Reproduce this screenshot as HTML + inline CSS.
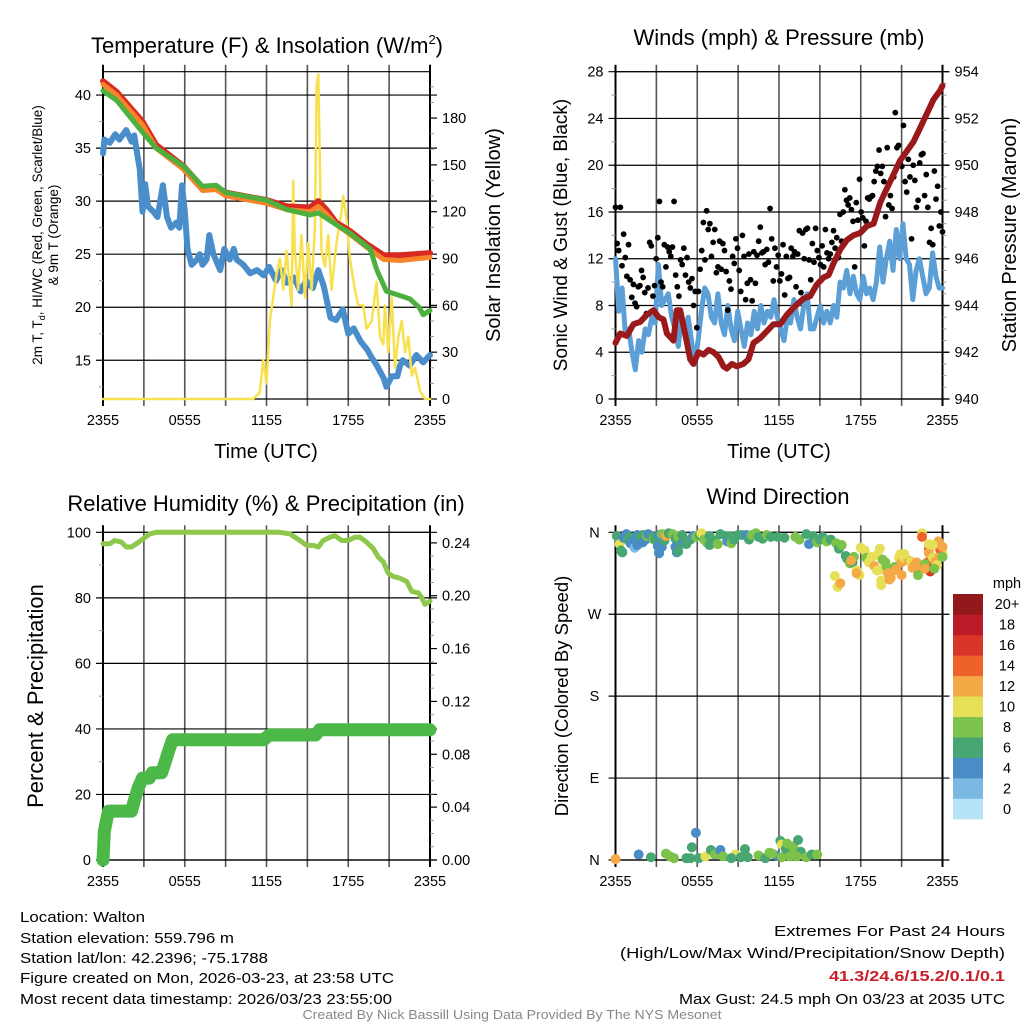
<!DOCTYPE html>
<html><head><meta charset="utf-8">
<style>
html,body{margin:0;padding:0;background:#fff;}
svg{display:block;font-family:"Liberation Sans",sans-serif;}
</style></head>
<body>
<svg id="chart" width="1024" height="1024" viewBox="0 0 1024 1024" xmlns="http://www.w3.org/2000/svg">
<rect x="0" y="0" width="1024" height="1024" fill="#fff"/>
<text x="267" y="53" font-size="22" text-anchor="middle">Temperature (F) &amp; Insolation (W/m<tspan font-size="13" dy="-9">2</tspan><tspan dy="9">)</tspan></text>
<text x="779" y="45" font-size="22" text-anchor="middle">Winds (mph) &amp; Pressure (mb)</text>
<text x="266" y="511" font-size="22" text-anchor="middle">Relative Humidity (%) &amp; Precipitation (in)</text>
<text x="778" y="504" font-size="22" text-anchor="middle">Wind Direction</text>
<text transform="translate(42,235) rotate(-90)" font-size="13.5" text-anchor="middle">2m T, T<tspan font-size="9" dy="3">d</tspan><tspan dy="-3">, HI/WC (Red, Green, Scarlet/Blue)</tspan></text>
<text transform="translate(58,235) rotate(-90)" font-size="13.5" text-anchor="middle">&amp; 9m T (Orange)</text>
<text transform="translate(500,235) rotate(-90)" font-size="20" text-anchor="middle">Solar Insolation (Yellow)</text>
<text x="266" y="458" font-size="20" text-anchor="middle">Time (UTC)</text>
<text transform="translate(567,235) rotate(-90)" font-size="19" text-anchor="middle">Sonic Wind &amp; Gust (Blue, Black)</text>
<text transform="translate(1016,235) rotate(-90)" font-size="20" text-anchor="middle">Station Pressure (Maroon)</text>
<text x="779" y="458" font-size="20" text-anchor="middle">Time (UTC)</text>
<text transform="translate(43,696) rotate(-90)" font-size="22" text-anchor="middle">Percent &amp; Precipitation</text>
<text transform="translate(568,696) rotate(-90)" font-size="18.5" text-anchor="middle">Direction (Colored By Speed)</text>
<g font-size="15">
<text x="20" y="922" textLength="125" lengthAdjust="spacingAndGlyphs">Location: Walton</text>
<text x="20" y="943" textLength="214" lengthAdjust="spacingAndGlyphs">Station elevation: 559.796 m</text>
<text x="20" y="963" textLength="248" lengthAdjust="spacingAndGlyphs">Station lat/lon: 42.2396; -75.1788</text>
<text x="20" y="983" textLength="374" lengthAdjust="spacingAndGlyphs">Figure created on Mon, 2026-03-23, at 23:58 UTC</text>
<text x="20" y="1004" textLength="372" lengthAdjust="spacingAndGlyphs">Most recent data timestamp: 2026/03/23 23:55:00</text>
</g>
<g font-size="15" text-anchor="end">
<text x="1005" y="936" textLength="231" lengthAdjust="spacingAndGlyphs">Extremes For Past 24 Hours</text>
<text x="1005" y="958" textLength="385" lengthAdjust="spacingAndGlyphs">(High/Low/Max Wind/Precipitation/Snow Depth)</text>
<text x="1005" y="981" fill="#c8202a" font-weight="bold" textLength="176" lengthAdjust="spacingAndGlyphs">41.3/24.6/15.2/0.1/0.1</text>
<text x="1005" y="1004" textLength="326" lengthAdjust="spacingAndGlyphs">Max Gust: 24.5 mph On 03/23 at 2035 UTC</text>
</g>
<text x="512" y="1019" font-size="12.5" fill="#888" text-anchor="middle" textLength="419" lengthAdjust="spacingAndGlyphs">Created By Nick Bassill Using Data Provided By The NYS Mesonet</text>
</svg>
<script>
// ---------- Panel 1 data ----------
const redHours = [0,1,2.9,3.9,5.9,7.3,8.3,9,12,13.5,15.2,15.8,16.4,17.1,18.1,19.3,20.6,21.8,24];
const redTemp = [41.3,40.3,37.5,35.3,33.3,31.3,31.4,30.8,30.1,29.5,29.4,30.0,29.2,28.0,27.2,26.0,24.9,24.9,25.1];
const orangeTemp = [41.0,40.0,37.2,35.0,33.0,31.0,31.1,30.5,29.8,29.2,29.0,29.5,28.8,27.8,26.9,25.7,24.5,24.4,24.7];
const greenHours = [0,1,2.9,3.9,5.9,7.3,8.3,9,12,13.5,15.2,15.8,17.1,18.1,19.6,20.1,20.8,21.8,22.5,23.2,23.5,24];
const greenTemp = [40.4,39.5,36.5,35.0,33.3,31.4,31.5,30.8,30.1,29.2,28.7,28.9,27.8,27.0,25.5,23.5,21.5,21.1,20.8,20.0,19.3,19.7];
const blueHours = [0,0.1,0.5,0.9,1.2,1.7,2.1,2.3,2.5,2.7,2.9,3.1,3.3,3.7,4.0,4.4,4.7,5.0,5.4,5.6,5.8,6.0,6.2,6.5,6.9,7.1,7.3,7.6,7.8,8.1,8.6,8.9,9.3,9.6,9.8,10.3,10.8,11.3,11.8,12.2,12.7,13.1,13.5,14.0,14.5,14.9,15.4,15.8,16.2,16.7,17.1,17.6,18.0,18.4,18.9,19.4,19.6,20.1,20.6,20.8,21.2,21.6,21.8,22.0,22.5,23.0,23.5,24];
const blueTemp = [34.5,35.8,35.5,36.3,35.8,36.7,35.6,36.2,34.5,33,29,31.6,29.5,29,28.5,31.5,28.5,27.5,28,27.5,31.5,29,25.5,24,24.5,25,24,24.5,26.8,25,23.5,25.5,24.5,25.5,24.5,24,23.2,23.5,23.0,23.8,22.5,23.5,22.3,22.8,21.5,22.5,21.8,23.5,22,19,18.8,19.8,17.5,18,16.8,16,15.5,14.5,13.3,12.5,13.5,13.5,14.5,15,14.5,15.5,14.8,15.5];
const solarHours = [0,11.0,11.5,11.76,12.0,12.25,12.49,12.74,12.98,13.23,13.47,13.84,13.96,14.08,14.33,14.57,14.82,15.06,15.31,15.55,15.68,15.8,15.92,16.04,16.29,16.53,16.78,17.14,17.51,17.63,17.88,18.12,18.49,18.74,19.1,19.35,19.72,20.08,20.33,20.57,20.69,20.94,21.19,21.43,21.68,21.92,22.17,22.41,22.66,22.9,23.27,23.63,24];
const solarValue = [0,0,4,25,10,50,65,80,90,70,95,60,140,95,70,105,65,100,70,110,200,208,150,95,85,105,70,100,120,130,115,90,70,60,60,45,50,75,40,35,60,30,65,20,40,50,30,40,15,20,5,0,0];
const tempTicks = [15,20,25,30,35,40];
const solarTicks = [0,30,60,90,120,150,180];
const timeLabels = ['2355','0555','1155','1755','2355'];
// ---------- Panel 2 data ----------
const pressureHours = [0,0.34,0.83,1.32,1.81,2.3,2.79,3.16,3.52,3.77,4.26,4.5,4.75,5.11,5.48,5.72,6.09,6.46,6.83,7.19,7.56,7.93,8.17,8.54,8.9,9.39,9.76,10.13,10.62,11.11,11.6,12.09,12.58,13.06,13.8,14.29,14.78,15.27,15.64,16.0,16.5,16.98,17.47,17.96,18.45,18.94,19.43,19.91,20.4,20.89,21.38,21.87,22.36,22.85,23.33,23.83,24];
const pressureMb = [942.4,942.8,942.7,943.2,943.3,943.6,943.8,943.5,943.4,942.8,942.5,943.8,943.8,942.8,941.7,941.5,942.0,941.9,942.1,942.0,941.8,941.4,941.3,941.5,941.4,941.5,941.7,942.4,942.6,942.9,943.2,943.2,943.6,943.9,944.3,944.4,944.9,945.2,945.3,945.8,946.4,946.8,947.0,947.1,947.4,947.5,948.4,949.0,949.6,950.2,950.6,951.0,951.6,952.2,952.8,953.2,953.4];
const windSpeed = [12,7.5,9.5,5.5,6,4,2.5,5,4,6,5.5,7,6.5,11.5,8,8.5,9,7,6,4.5,7,6,7,5,3,5,7.5,9.5,9,7,6.5,9,6.5,5.5,8,6,5,7.5,6,4.5,6.5,5.5,7.5,6,8,6.5,7.5,7,8.5,7,6,5,7,6.5,8.5,7,6,8,9,6,6,7,8,6.5,7.5,6.5,8,7,10,9.5,11,9,10.5,9,8.5,10.5,9,9.5,8.5,10,13,10,12,13.5,11,14.5,12,15,12,11.5,8.5,11,12,10.5,9,9.5,12.5,10.5,9.5,9.5];
const gustSpeed = [16.4,13.3,12.7,16.4,11.4,14.1,12.1,10.5,13.2,10.2,8.7,9.8,8.2,7.9,9.6,9.7,11,10.4,9.1,7.3,9.5,13.4,13.1,8.8,9.7,12,13.8,16.9,10,9.6,13.2,11.3,13,12.6,12.2,13,16.9,10.6,9.6,8.8,11.9,11.5,12.9,10.6,12.1,10,9.5,10.3,8,9.2,6.1,9.2,11.1,12.7,15.1,11.9,16.1,14.5,15,12.2,13.4,14.5,10.8,11.3,13.5,11.1,13.3,12.7,10.9,7.6,10.1,9.4,12.2,11.6,13.7,12.9,11,9.2,14,12.2,8.5,9.9,12.4,10.2,8.4,12.6,9.9,12.3,13.5,14.7,12.5,12.6,11.5,12.8,11.7,16.3,13.7,10.1,12.9,11.3,12.3,10.1,10.7,13.2,8.9,12.2,10.3,10.4,12.9,12.2,12.6,9.6,12.4,14.4,9.1,14.2,12,14.5,14.6,11.9,10.2,13.3,11.7,14.6,12.7,12.1,11.5,13.1,11.3,14.5,12.5,12,12.4,13.4,14.4,12.9,13.8,12.1,15.8,13.5,16,17.9,17,16.6,17.2,16.2,15.2,11.3,16.8,15.3,18.8,16,15.5,13.1,15.2,17.2,17.1,17.3,17.4,18.6,19.5,19.9,21.3,19.3,19.9,18.6,15.6,21.5,16.6,17.4,16.3,19,24.5,21.5,21.7,20.2,19.9,23.4,18.6,17.7,20.5,19,13.7,20,18.7,16.4,17,20.2,20.9,21,17.4,19.2,16.4,13.4,14.6,13.2,19.5,17.1,18.2,14.8,16,14.3];
const windTicks = [0,4,8,12,16,20,24,28];
const pressureTicks = [940,942,944,946,948,950,952,954];
// ---------- Panel 3 data ----------
const rhHours = [0,0.49,0.86,1.35,1.71,2.08,2.45,2.94,3.43,3.92,12.98,13.72,14.45,14.94,15.43,15.8,16.16,16.65,17.02,17.51,18.0,18.49,18.86,19.35,19.84,20.2,20.57,20.94,21.31,21.8,22.29,22.66,23.15,23.39,23.63,24];
const rhValue = [96.5,96.5,97.5,97,95.5,95.5,96.5,98,99.5,100,100,99.5,97.5,96,96,95.5,97.5,98.5,99,97.5,97.5,98.5,98.5,97,95,92.5,91,87.5,86.5,86,85,82,81.5,80,78,79];
const precipHours = [0,0.05,0.1,0.2,0.4,2.1,2.3,2.6,2.9,3.4,3.6,4.3,4.5,4.8,5.1,11.8,12.2,15.6,15.9,24];
const precipIn = [0,0.011,0.022,0.027,0.037,0.037,0.045,0.055,0.062,0.062,0.066,0.066,0.072,0.082,0.091,0.091,0.0946,0.0946,0.0985,0.0985];
const rhTicks = [0,20,40,60,80,100];
const precipTicks = ['0.00','0.04','0.08','0.12','0.16','0.20','0.24'];
// ---------- Panel 4 data ----------
const dirHours = [
0.1,0.3,0.3,0.4,0.5,0.6,0.8,0.9,1.0,1.1,
1.3,1.4,1.6,1.6,1.8,2.0,2.0,2.2,2.3,2.4,
2.7,2.8,2.9,3.0,3.2,3.4,3.1,3.2,3.2,3.4,
3.6,3.7,3.9,4.2,4.4,4.4,4.5,4.6,4.6,4.8,
5.0,4.9,5.2,5.5,5.7,5.9,6.2,6.3,6.5,6.7,
6.9,6.9,7.3,7.5,7.7,8.1,8.2,8.4,8.5,8.7,
9.0,9.3,9.6,9.8,10.0,10.3,10.5,10.8,11.1,11.4,
11.9,12.4,13.2,13.5,14.0,14.2,14.5,14.8,15.0,15.2,
15.5,15.8,
16.2,16.4,16.6,16.9,17.0,17.2,17.4,17.5,17.7,17.9,
17.7,18.0,18.3,18.4,18.6,18.8,19.0,19.2,19.4,19.6,
19.8,19.2,19.6,19.5,19.9,20.0,20.2,20.4,20.5,20.8,
21.0,21.2,21.5,21.7,21.8,21.9,22.1,22.3,22.5,22.5,
22.9,23.0,23.0,23.1,23.2,23.3,23.5,23.6,23.8,24.0,
23.7,23.8,24.0,23.3,23.0,24.0,22.7,22.2,20.9,21.2,
16.3,16.5,17.3,19.5,20.1,20.6,21.0,22.7,23.4,16.1,
0,1.7,2.6,3.7,4.0,4.3,5.2,5.5,5.6,5.9,
6.1,6.6,7.0,7.3,7.7,7.9,8.8,9.2,9.5,9.7,
10.5,11.0,11.3,11.8,12.2,12.1,12.2,12.5,12.6,12.8,
13.0,13.1,13.4,13.6,14.0,14.4,14.8,13.3,8.5,11.5];
const dirDegrees = [
356,352,347,340,338,354,358,352,355,348,
350,343,346,357,355,349,357,352,356,358,
355,352,353,352,357,358,345,338,337,344,
351,356,359,358,353,344,338,339,355,347,
349,357,347,352,356,355,357,359,352,349,
356,346,351,347,358,356,350,356,348,352,
357,357,357,352,357,359,355,353,357,355,
355,354,355,352,358,347,356,349,352,355,
350,352,
348,342,346,334,331,326,327,333,318,313,
315,343,340,332,327,333,323,335,342,330,
327,318,319,307,322,315,310,318,322,332,
327,332,329,328,321,323,327,322,359,355,
327,342,337,317,319,332,328,324,334,337,
350,342,344,346,347,333,325,313,336,336,
300,304,329,302,308,319,313,320,320,312,
1,6,3,7,4,2,2,2,14,30,
2,4,11,6,11,4,6,3,12,3,
5,2,8,5,3,21,17,12,18,4,
15,13,22,9,3,6,6,4,2,7];
const dirSpeed = [
7,6,10,7,7,5,5,6,6,4,
4,2,4,4,7,4,6,4,8,4,
7,8,6,6,4,8,4,6,4,4,
7,12,7,8,6,4,4,6,8,6,
4,7,6,6,4,8,7,10,8,8,
6,6,6,8,6,7,4,6,8,6,
6,6,4,6,8,8,6,6,8,6,
6,6,8,8,6,4,6,8,6,6,
8,7,
8,6,8,6,6,8,6,8,10,10,
12,10,10,8,10,10,12,10,10,8,
8,10,10,10,8,12,12,12,8,10,
12,10,12,10,12,12,12,12,10,14,
14,14,12,16,16,10,12,10,12,10,
12,14,12,10,10,8,8,8,10,10,
10,12,12,10,12,12,12,12,8,10,
12,4,6,8,8,8,6,6,6,4,
6,10,6,8,4,8,10,6,6,6,
8,6,8,4,8,6,10,6,8,8,
8,8,6,6,8,6,8,8,6,8];
const dirTicks = ['N','E','S','W','N'];
const speedBins = ['0','2','4','6','8','10','12','14','16','18','20+'];
const speedColors = ['#b6e3f7','#7bb9e3','#4a8dc6','#48a672','#7dc24b','#e6e059','#f5a946','#ee6229','#db352a','#bb1c27','#92181c'];

const NS = 'http://www.w3.org/2000/svg';
const svg = document.getElementById('chart');
function mk(tag, parent) { const e = document.createElementNS(NS, tag); parent.appendChild(e); return e; }
function setA(e, obj) { for (const k in obj) e.setAttribute(k, obj[k]); return e; }
function scale(d0, d1, r0, r1) { return v => r0 + (v - d0) / (d1 - d0) * (r1 - r0); }

function frame(name, x0, x1, yT, yB, hTicksY) {
  const g = mk('g', svg);
  
  
  for (let i = 0; i <= 8; i++) {
    const x = x0 + i * (x1 - x0) / 8;
    const ln = mk('line', g);
    setA(ln, {x1: x, x2: x, y1: yT - 7, y2: yB + 7, stroke: (i === 0 || i === 8) ? '#000' : '#555', 'stroke-width': (i === 0 || i === 8) ? 2 : 1.6});
    
    
  }
  hTicksY.forEach(y => {
    const ln = mk('line', g);
    setA(ln, {x1: x0 - 7, x2: x1 + 7, y1: y, y2: y, stroke: '#000', 'stroke-width': 1.2});
    
    
  });
  const tl = mk('line', g);
  setA(tl, {x1: x0, x2: x1, y1: yT, y2: yT, stroke: '#000', 'stroke-width': 1.2});
  
  
  const bl = mk('line', g);
  setA(bl, {x1: x0, x2: x1, y1: yB, y2: yB, stroke: '#000', 'stroke-width': 1.2});
  
  
  timeLabels.forEach((t, i) => {
    const tx = mk('text', g);
    setA(tx, {x: x0 + i * (x1 - x0) / 4, y: yB + 26, 'font-size': 14.5, 'text-anchor': 'middle'});
    tx.textContent = t;
    
    
  });
  return g;
}
function minorTicks(g, x, ys, dir) {
  ys.forEach(y => {
    const ln = mk('line', g);
    setA(ln, {x1: x, x2: x + dir * 4, y1: y, y2: y, stroke: '#999', 'stroke-width': 1});
    
    
  });
}
function tickLabel(g, x, y, txt, anchor) {
  const tx = mk('text', g);
  setA(tx, {x: x, y: y + 5, 'font-size': 14.5, 'text-anchor': anchor});
  tx.textContent = txt;
  
  
}
function rightTicks(g, x1, ys) {
  ys.forEach(y => {
    const ln = mk('line', g);
    setA(ln, {x1: x1, x2: x1 + 7, y1: y, y2: y, stroke: '#000', 'stroke-width': 1.2});
    
    
  });
}
function pathD(xs, ys, fx, fy) { return xs.map((h, i) => (i ? 'L' : 'M') + fx(h).toFixed(1) + ',' + fy(ys[i]).toFixed(1)).join(''); }
function line(parent, d, color, w, name) {
  const p = mk('path', parent);
  setA(p, {d: d, fill: 'none', stroke: color, 'stroke-width': w, 'stroke-linejoin': 'round', 'stroke-linecap': 'round'});
  
  
  return p;
}

// ===== Panel 1 =====
(function () {
  const x0 = 103, x1 = 430, yT = 71.7, yB = 399;
  const fx = scale(0, 24, x0, x1);
  const fy = scale(11.35, 42.2, yB, yT);
  const fs = scale(0, 209.7, yB, yT);
  const g = frame('temp', x0, x1, yT, yB, tempTicks.map(fy));
  const mins = []; for (let v = 12.5; v < 42; v += 2.5) if (v % 5) mins.push(fy(v));
  minorTicks(g, x0, mins, -1);
  tempTicks.forEach(v => tickLabel(g, x0 - 12, fy(v), String(v), 'end'));
  const rm = []; for (let v = 10; v < 209; v += 10) if (v % 30) rm.push(fs(v));
  minorTicks(g, x1, rm, 1);
  rightTicks(g, x1, solarTicks.map(fs));
  solarTicks.forEach(v => tickLabel(g, x1 + 12, fs(v), String(v), 'start'));
  const s = mk('g', svg);
  
  
  line(s, pathD(blueHours, blueTemp, fx, fy), '#4a8dcb', 6, 'dewpoint-line');
  line(s, pathD(solarHours, solarValue, fx, fs), '#f8e04e', 2.5, 'solar-line');
  line(s, pathD(redHours, redTemp, fx, fy), '#d82a22', 6, 'temperature-2m-line');
  line(s, pathD(redHours, orangeTemp, fx, fy), '#f5842a', 5, 'temperature-9m-line');
  line(s, pathD(greenHours, greenTemp, fx, fy), '#4caf3e', 5, 'windchill-line');
})();

// ===== Panel 2 =====
(function () {
  const x0 = 615.5, x1 = 942.5, yT = 71.7, yB = 399;
  const fx = scale(0, 24, x0, x1);
  const fy = scale(0, 28, yB, yT);
  const fp = scale(940, 954, yB, yT);
  const g = frame('wind', x0, x1, yT, yB, windTicks.map(fy));
  const mins = []; for (let v = 2; v < 28; v += 4) mins.push(fy(v));
  minorTicks(g, x0, mins, -1);
  windTicks.forEach(v => tickLabel(g, x0 - 12, fy(v), String(v), 'end'));
  const rm = []; for (let v = 940.5; v < 954; v += 0.5) if (v % 2) rm.push(fp(v));
  minorTicks(g, x1, rm, 1);
  rightTicks(g, x1, pressureTicks.map(fp));
  pressureTicks.forEach(v => tickLabel(g, x1 + 12, fp(v), String(v), 'start'));
  const s = mk('g', svg);
  
  
  const wHours = windSpeed.map((v, i) => i * 24 / (windSpeed.length - 1));
  line(s, pathD(wHours, windSpeed, fx, fy), '#5b9fd6', 5, 'wind-speed-line');
  gustSpeed.forEach((v, i) => {
    const c = mk('circle', s);
    setA(c, {cx: fx(i * 24 / (gustSpeed.length - 1)), cy: fy(v), r: 2.9, fill: '#000'});
    
    
  });
  line(s, pathD(pressureHours, pressureMb, fx, fp), '#9a1a1c', 6, 'pressure-line');
})();

// ===== Panel 3 =====
(function () {
  const x0 = 103, x1 = 430, yT = 532.3, yB = 860;
  const fx = scale(0, 24, x0, x1);
  const fy = scale(0, 100, yB, yT);
  const fp = scale(0, 0.248, yB, yT);
  const g = frame('rh', x0, x1, yT, yB, rhTicks.map(fy));
  const mins = []; for (let v = 10; v < 100; v += 20) mins.push(fy(v));
  minorTicks(g, x0, mins, -1);
  rhTicks.forEach(v => tickLabel(g, x0 - 12, fy(v), String(v), 'end'));
  const rm = []; for (let v = 1; v < 25; v++) if (v % 4) rm.push(fp(v / 100));
  minorTicks(g, x1, rm, 1);
  rightTicks(g, x1, precipTicks.map(t => fp(parseFloat(t))));
  precipTicks.forEach(t => tickLabel(g, x1 + 12, fp(parseFloat(t)), t, 'start'));
  const s = mk('g', svg);
  
  
  line(s, pathD(rhHours, rhValue, fx, fy), '#8dc84c', 5, 'humidity-line');
  line(s, pathD(precipHours, precipIn, fx, fp), '#4cb848', 13, 'precipitation-line');
})();

// ===== Panel 4 =====
(function () {
  const x0 = 615.5, x1 = 942.5, yT = 532.3, yB = 860;
  const fx = scale(0, 24, x0, x1);
  const fy = scale(0, 360, yB, yT);
  const g = frame('direction', x0, x1, yT, yB, dirTicks.map((t, i) => fy(i * 90)));
  dirTicks.forEach((t, i) => tickLabel(g, x0 - 21, fy(i * 90), t, 'middle'));
  const s = mk('g', svg);
  
  
  dirHours.forEach((h, i) => {
    const c = mk('circle', s);
    const spd = dirSpeed[i] === undefined ? 6 : dirSpeed[i];
    const bin = Math.max(0, Math.min(10, Math.floor(spd / 2)));
    setA(c, {cx: fx(h), cy: fy(dirDegrees[i]), r: 5, fill: speedColors[bin]});
    
    
  });
  const lg = mk('g', svg);
  
  
  const t = mk('text', lg);
  setA(t, {x: 1007, y: 588, 'font-size': 14.5, 'text-anchor': 'middle'});
  t.textContent = 'mph';
  
  
  const bh = 225 / speedBins.length;
  speedBins.forEach((lab, i) => {
    const y = 819 - (i + 1) * bh;
    const r = mk('rect', lg);
    setA(r, {x: 953, y: y, width: 30, height: bh + 0.3, fill: speedColors[i]});
    
    
    const tx = mk('text', lg);
    setA(tx, {x: 1007, y: y + bh / 2 + 5, 'font-size': 14.5, 'text-anchor': 'middle'});
    tx.textContent = lab;
    
    
  });
})();
</script>
</body></html>
